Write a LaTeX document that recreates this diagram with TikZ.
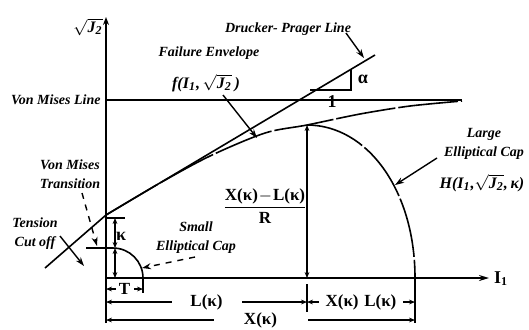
\documentclass[tikz,border=0pt]{standalone}
\usepackage{fontspec}
\setmainfont{Liberation Serif}
\usetikzlibrary{arrows.meta}
\newcommand{\sqJ}{\ensuremath{\sqrt{\hbox{\textbf{\textit{J}}\textsubscript{\textbf{2}}}}}}
\tikzset{
  note/.style={font=\fontsize{7}{9.5}\selectfont\bfseries\itshape, inner sep=0pt, align=center},
  fun/.style={font=\fontsize{8}{10}\selectfont\bfseries\itshape, inner sep=0pt},
  big/.style={font=\fontsize{9}{10}\selectfont\bfseries, inner sep=0pt},
  dimtext/.style={font=\fontsize{8.5}{10}\selectfont\bfseries, inner sep=0pt, fill=white},
  envelope/.style={line width=0.8pt, dash pattern=on 30pt off 1.5pt},
  dimline/.style={line width=0.6pt, {Stealth[length=3pt,width=2.4pt]}-{Stealth[length=3pt,width=2.4pt]}},
  pointer/.style={line width=0.7pt, -{Stealth[length=4.5pt,width=3pt]}},
}
\begin{document}
\begin{tikzpicture}[x=0.5pt, y=-0.5pt]
    \useasboundingbox (0,0) rectangle (529,329);
    % key points
    \coordinate (O) at (106,278);
    \coordinate (Ytop) at (106,17);
    \coordinate (Ybot) at (106,323);
    \coordinate (Xend) at (489,278);
    \coordinate (P) at (106,215);
    \coordinate (A) at (307,125);
    \coordinate (B) at (415,278);
    \coordinate (S) at (143,278);

    % axes
    \draw[line width=1.1pt, -{Stealth[length=4pt,width=3pt]}] (Ybot) -- (Ytop);
    \draw[line width=1.1pt, -{Stealth[length=5pt,width=3pt]}] (O) -- (Xend);
    \node[fun] (jlabel) at (88,27) {\sqJ};
    \node[big] (ilabel) at (501,279) {I\textsubscript{1}};

    % Von Mises line
    \coordinate (vm) at (106,100);
    \coordinate (vmend) at (462,100);
    \draw[line width=0.8pt] (vm) -- (vmend);
    \node[note, anchor=east] (vmtext) at (101,100) {Von Mises Line};

    % Drucker-Prager line
    \coordinate (dpa) at (45,268);
    \coordinate (dpb) at (375,55);
    \draw[line width=0.8pt] (dpa) -- (P) -- (dpb);
    \coordinate (t1) at (310,90);
    \coordinate (t2) at (351,90);
    \coordinate (t3) at (351,69);
    \draw[line width=0.8pt] (t1) -- (t2) -- (t3);
    \node[big] (alpha) at (363,79) {α};
    \node[big] (one) at (332,102) {1};
    \node[note] (dptext) at (288,29) {Drucker- Prager Line};
    \coordinate (dptail) at (346,33);
    \coordinate (dptip) at (364,58);
    \draw[pointer] (dptail) -- (dptip);

    % failure envelope
    \draw[envelope] plot[smooth] coordinates {(106,215) (160,183) (210,156) (265,133) (307,125) (360,114) (410,106) (462,101)};
    \node[note] (fetext) at (209,53) {Failure Envelope};
    \node[fun] (fefun) at (206,83) {f(I\textsubscript{1},\,\sqJ\,)};
    \coordinate (fetail) at (223,95);
    \coordinate (fetip) at (257,138);
    \draw[pointer] (fetail) -- (fetip);

    % large elliptical cap
    \draw[envelope] (A) .. controls (367,125) and (415,190) .. (B);
    \coordinate (Afoot) at (307,278);
    \draw[dimline] (A) -- (Afoot);
    \node[note] (lctext) at (484,144) {Large\\Elliptical Cap};
    \node[fun] (lcfun) at (482,183) {H(I\textsubscript{1},\sqJ,\,κ)};
    \coordinate (lctail) at (437,158);
    \coordinate (lctip) at (395,185);
    \draw[pointer] (lctail) -- (lctip);
    \node[dimtext, fill=none] (frac) at (265,206) {$\displaystyle\frac{\textbf{X(κ)}\!-\!\textbf{L(κ)}}{\textbf{R}}$};

    % small elliptical cap
    \coordinate (trans) at (86,248);
    \coordinate (c0) at (113,248);
    \draw[line width=0.8pt] (trans) -- (c0) arc[start angle=90, end angle=0, radius=15pt];
    \coordinate (Sfoot) at (143,293);
    \draw[line width=0.6pt] (S) -- (Sfoot);
    \coordinate (k0) at (106,218);
    \coordinate (k1) at (125,218);
    \draw[line width=0.6pt] (k0) -- (k1);
    \coordinate (ka) at (115,218);
    \coordinate (kb) at (115,248);
    \coordinate (kc) at (115,278);
    \draw[dimline] (ka) -- (kb);
    \draw[dimline] (kb) -- (kc);
    \node[big] (kappa) at (121,236) {κ};
    \node[note] (sctext) at (196,238) {Small\\Elliptical Cap};
    \coordinate (sctail) at (195,257);
    \coordinate (sctip) at (142,268);
    \draw[pointer, dashed] (sctail) -- (sctip);

    % transition and tension cut off
    \node[note] (vttext) at (70,174) {Von Mises\\Transition};
    \coordinate (vttail) at (82,193);
    \coordinate (vttip) at (97,246);
    \draw[pointer, dashed] (vttail) -- (vttip);
    \node[note] (tctext) at (35,234) {Tension\\Cut off};
    \coordinate (tctail) at (60,236);
    \coordinate (tctip) at (84,266);
    \draw[pointer] (tctail) -- (tctip);

    % dimensions
    \draw[line width=0.6pt] (307,284) -- (307,312);
    \draw[line width=0.6pt] (B) -- (415,323);
    \draw[dimline] (106,289) -- (143,289) node[midway, dimtext, minimum width=9pt] {T};
    \draw[dimline] (106,302) -- (307,302) node[midway, dimtext, minimum width=35pt] {L(κ)};
    \draw[dimline] (307,302) -- (415,302) node[midway, dimtext, minimum width=42pt] {X(κ)\,\,L(κ)};
    \draw[dimline] (106,320) -- (415,320) node[midway, dimtext, minimum width=47pt] {X(κ)};
\end{tikzpicture}
\end{document}
